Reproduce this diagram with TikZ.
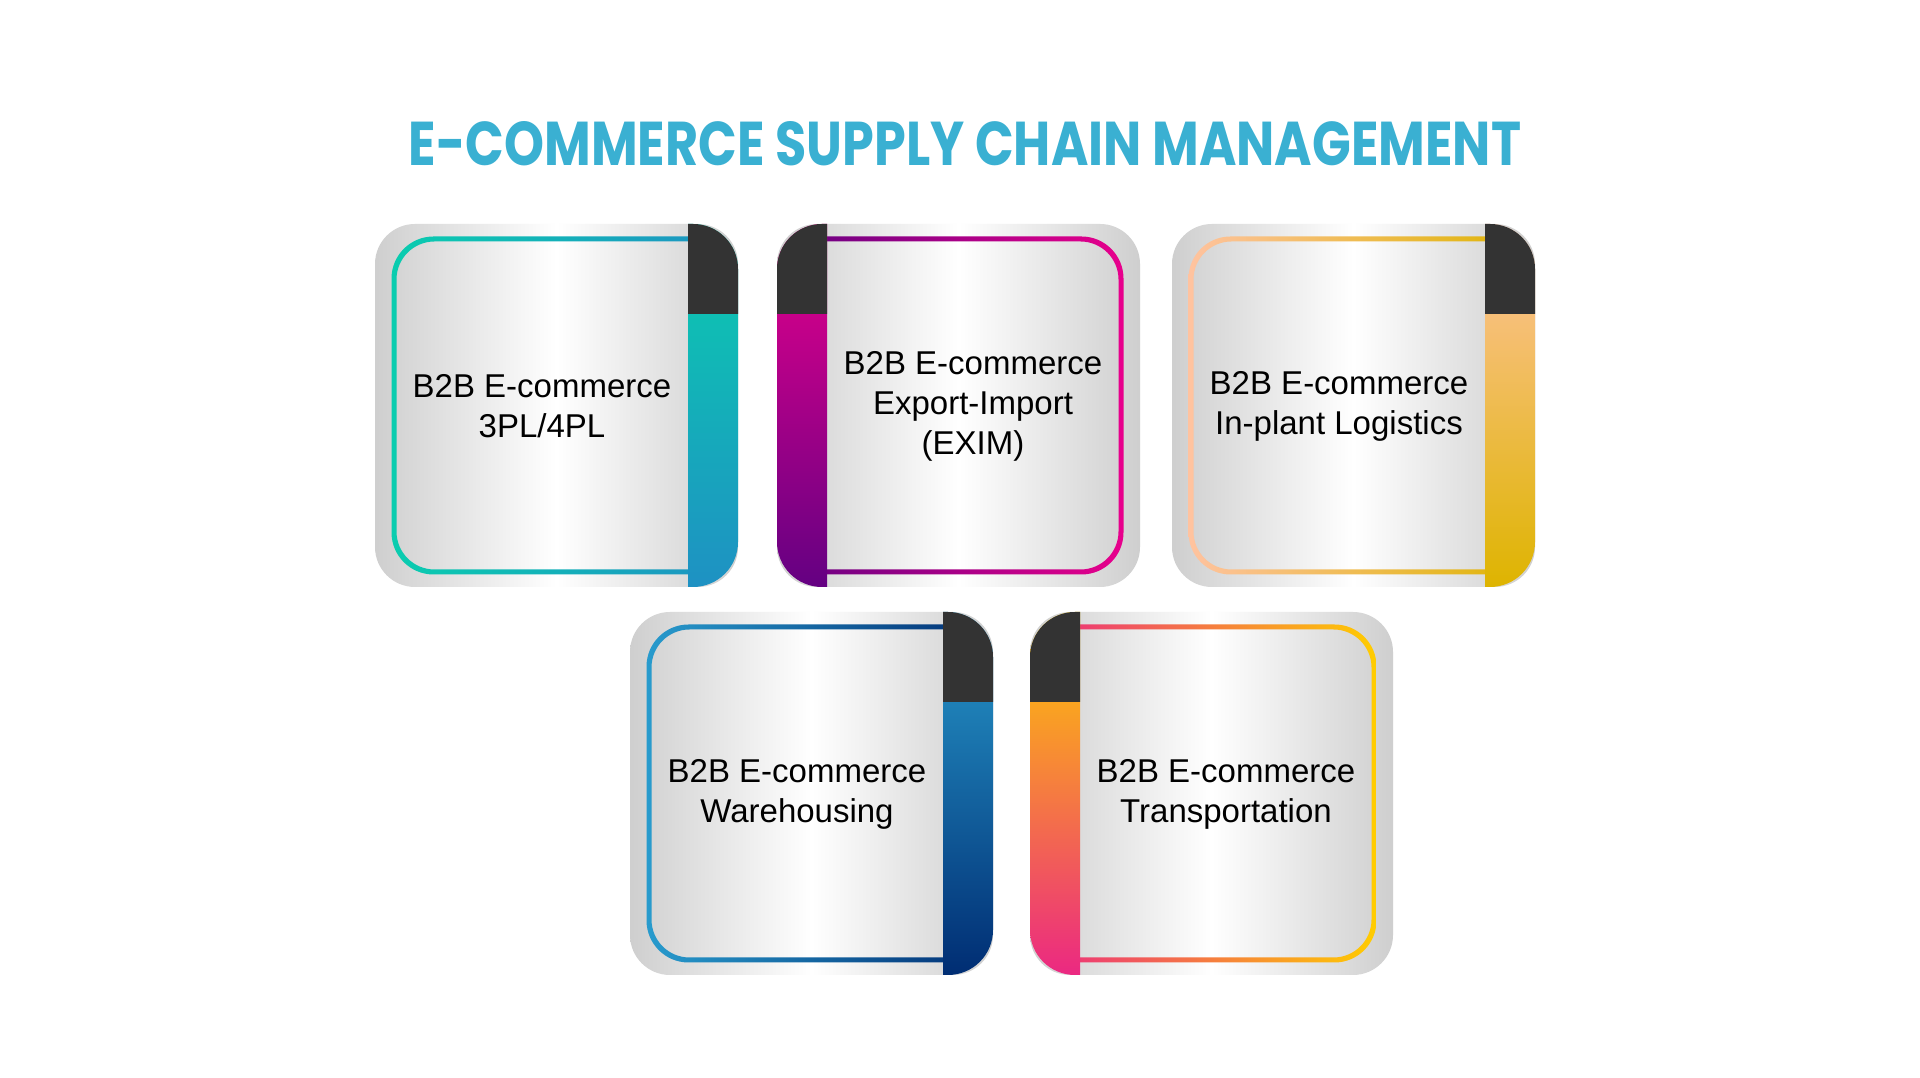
\documentclass[tikz,border=0pt]{standalone}
\usepackage{fontspec}
\setmainfont{Liberation Sans}
\newfontfamily\titlefont{Poppins}
\usepackage{graphicx}
\usetikzlibrary{positioning}

\definecolor{titleblue}{RGB}{58,176,210}
\definecolor{bardark}{RGB}{51,51,51}
\definecolor{tealA}{RGB}{10,205,175}
\definecolor{tealB}{RGB}{30,145,195}
\definecolor{magA}{RGB}{232,0,140}
\definecolor{magB}{RGB}{100,0,130}
\definecolor{peachA}{RGB}{255,195,160}
\definecolor{peachB}{RGB}{222,180,0}
\definecolor{blueA}{RGB}{40,155,205}
\definecolor{blueB}{RGB}{0,45,115}
\definecolor{yelA}{RGB}{255,205,0}
\definecolor{yelB}{RGB}{235,40,130}

\begin{document}
\begin{tikzpicture}[x=1pt,y=1pt]

	\tikzstyle card back=[rounded corners=40pt, left color=gray!38, right color=gray!38, middle color=white];
	\tikzstyle card text=[align=center, font=\fontsize{33}{40}\selectfont, text=black];

	\useasboundingbox (0,0) rectangle (1920,1078);
	\fill[white] (0,0) rectangle (1920,1078);

	\node[text=titleblue] (title) at (965,934) {\resizebox{1112pt}{44pt}{\titlefont\bfseries E-COMMERCE SUPPLY CHAIN MANAGEMENT}};

	% cards with the bar on the right
	\foreach \x/\y/\ca/\cb/\txt/\nm in {375/491/tealA/tealB/{B2B E-commerce\\3PL/4PL}/pl,1172/491/peachA/peachB/{B2B E-commerce\\In-plant Logistics}/inplant,630/103/blueA/blueB/{B2B E-commerce\\Warehousing}/ware}
	{
		\shade[card back] (\x,\y) rectangle ({\x+363},{\y+363});
		\shade[even odd rule, left color=\ca, right color=\cb, rounded corners=42pt] ({\x+16.5},{\y+12.5}) rectangle ({\x+360},{\y+350.5})
			[rounded corners=38pt] ({\x+21.5},{\y+17.5}) rectangle ({\x+355},{\y+345.5});
		\shade[top color=\ca, bottom color=\cb] ({\x+313},\y) -- ({\x+318},\y) arc[start angle=-90,end angle=0,radius=45] -- ({\x+363},{\y+318}) arc[start angle=0,end angle=90,radius=45] -- ({\x+313},{\y+363}) -- cycle;
		\fill[bardark] ({\x+313},{\y+273}) -- ({\x+363},{\y+273}) -- ({\x+363},{\y+318}) arc[start angle=0,end angle=90,radius=45] -- ({\x+313},{\y+363}) -- cycle;
		\node[card text] (\nm) at ({\x+167},{\y+181}) {\txt};
	}

	% cards with the bar on the left
	\foreach \x/\y/\ca/\cb/\txt/\nm in {777/491/magB/magA/{B2B E-commerce\\Export-Import\\(EXIM)}/exim,1030/103/yelB/yelA/{B2B E-commerce\\Transportation}/transport}
	{
		\shade[card back] (\x,\y) rectangle ({\x+363},{\y+363});
		\shade[even odd rule, left color=\ca, right color=\cb, rounded corners=42pt] ({\x+3},{\y+12.5}) rectangle ({\x+346.5},{\y+350.5})
			[rounded corners=38pt] ({\x+8},{\y+17.5}) rectangle ({\x+341.5},{\y+345.5});
		\shade[top color=\cb, bottom color=\ca] ({\x+50},\y) -- ({\x+45},\y) arc[start angle=-90,end angle=-180,radius=45] -- (\x,{\y+318}) arc[start angle=180,end angle=90,radius=45] -- ({\x+50},{\y+363}) -- cycle;
		\fill[bardark] ({\x+50},{\y+273}) -- (\x,{\y+273}) -- (\x,{\y+318}) arc[start angle=180,end angle=90,radius=45] -- ({\x+50},{\y+363}) -- cycle;
		\node[card text] (\nm) at ({\x+196},{\y+181}) {\txt};
	}

\end{tikzpicture}
\end{document}
